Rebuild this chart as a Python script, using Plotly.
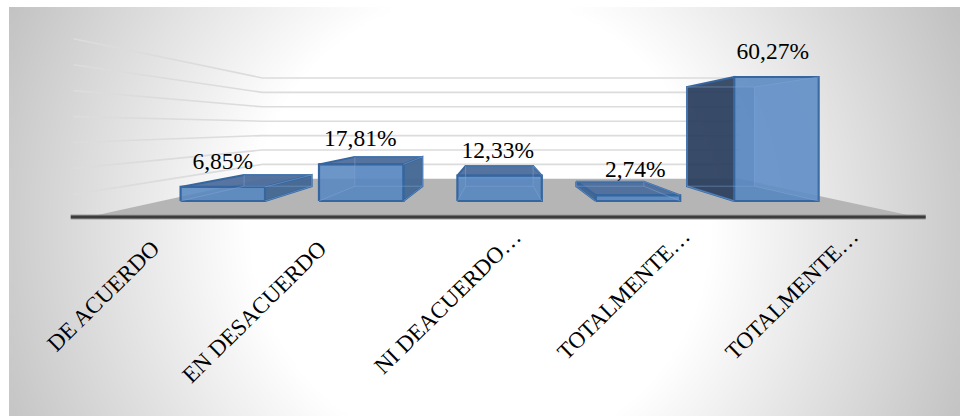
import numpy as np
import plotly.graph_objects as go

categories = ["DE ACUERDO", "EN DESACUERDO", "NI DEACUERDO…", "TOTALMENTE…", "TOTALMENTE…"]
values = [6.85, 17.81, 12.33, 2.74, 60.27]
value_labels = ["6,85%", "17,81%", "12,33%", "2,74%", "60,27%"]
wall_grid_values = [10, 20, 30, 40, 50, 60, 70]

W, H = 960, 416
X0, PITCH = 222.8, 138.4      # pixel of first category, pixels per category
Y0, PXPCT = 201.0, 2.057      # pixel of 0 %, pixels per percent
x_range = [(0 - X0) / PITCH, (W - X0) / PITCH]
y_range = [(Y0 - H) / PXPCT, (Y0 - 0) / PXPCT]

VX, VY = 1.99, 36.0           # vanishing point in axis units
BAR_HALF = 0.305
S_BACK, S_WALL, S_FLOOR, S_SIDE = 0.8, 0.7, 1.216, 1.26
WALL_L, WALL_R = VX - 2.435, VX + 2.49
FONT = "Liberation Serif"


def proj(x, y, s):
    return VX + s * (x - VX), VY + s * (y - VY)


def poly(points, fill, line, width, name=""):
    xs = [p[0] for p in points] + [points[0][0]]
    ys = [p[1] for p in points] + [points[0][1]]
    return go.Scatter(x=xs, y=ys, mode="lines", fill="toself", fillcolor=fill,
                      line=dict(color=line, width=width), hoverinfo="skip", showlegend=False, name=name)


def line(points, color, width):
    return go.Scatter(x=[p[0] for p in points], y=[p[1] for p in points], mode="lines",
                      line=dict(color=color, width=width), hoverinfo="skip", showlegend=False)


fig = go.Figure()

# radial background
px = np.arange(13, W + 5, 8.0)
py = np.arange(11, H + 5, 8.0)
gx, gy = np.meshgrid(px, py)
d = np.hypot(gx - 480, gy - 225)
z = np.clip(255 - (d - 230) * 0.21, 190, 255)
fig.add_trace(go.Heatmap(x=(px - X0) / PITCH, y=(Y0 - py) / PXPCT, z=z, zmin=0, zmax=255,
                         colorscale=[[0, "#000000"], [1, "#ffffff"]], showscale=False,
                         zsmooth="best", hoverinfo="skip"))

# wall grid lines
for g in wall_grid_values:
    fig.add_trace(line([proj(WALL_L, g, S_SIDE), proj(WALL_L, g, S_WALL), proj(WALL_R, g, S_WALL)],
                       "#dcdcdc", 1.6))

# floor
fig.add_trace(poly([proj(WALL_L, 0, S_FLOOR), proj(WALL_R, 0, S_FLOOR),
                    proj(WALL_R, 0, S_WALL), proj(WALL_L, 0, S_WALL)], "#b5b5b5", "#b5b5b5", 0))

# axis line at front of floor
ax_l, ax_r = proj(VX - 2.54, 0, S_FLOOR), proj(VX + 2.54, 0, S_FLOOR)
fig.add_trace(line([ax_l, ax_r], "#9a9a9a", 5))
fig.add_trace(line([ax_l, ax_r], "#3c3c3c", 3))

EDGE = "#35669f"
SEE_THROUGH = "rgba(125,165,215,0.5)"
for i, v in enumerate(values):
    xl, xr = i - BAR_HALF, i + BAR_HALF
    fl0, fr0, fr1, fl1 = (xl, 0), (xr, 0), (xr, v), (xl, v)
    bl0, br0 = proj(xl, 0, S_BACK), proj(xr, 0, S_BACK)
    br1, bl1 = proj(xr, v, S_BACK), proj(xl, v, S_BACK)
    left_out = bl0[0] < xl
    right_out = br0[0] > xr

    # inner faces first
    fig.add_trace(poly([bl0, br0, br1, bl1], "rgba(70,120,185,0.35)", "rgba(0,0,0,0)", 0))
    fig.add_trace(poly([fl0, fr0, br0, bl0], "rgba(70,120,185,0.2)", "rgba(0,0,0,0)", 0))
    # top face
    if v < VY:
        fig.add_trace(poly([fl1, fr1, br1, bl1], "rgba(78,110,155,0.95)", EDGE, 2))
    # visible sides
    if right_out:
        fig.add_trace(poly([fr0, br0, br1, fr1], "rgba(68,104,148,0.95)", EDGE, 2))
    if left_out:
        fill = "rgba(41,60,90,0.9)" if v > VY else "rgba(70,100,140,0.95)"
        fig.add_trace(poly([fl0, bl0, bl1, fl1], fill, EDGE, 2))
    # front face
    fig.add_trace(poly([fl0, fr0, fr1, fl1], "rgba(88,134,192,0.88)", EDGE, 2.2))
    # tall bar: inside of the far side shows through the front
    if v > VY and not right_out:
        fig.add_trace(poly([fr0, br0, br1, fr1], "rgba(125,170,222,0.18)", "rgba(0,0,0,0)", 0))
    # edges of the box that are seen through its faces
    fig.add_trace(line([bl0, bl1, br1, br0, bl0], SEE_THROUGH, 1))
    fig.add_trace(line([fl0, bl0], SEE_THROUGH, 1))
    fig.add_trace(line([fr0, br0], SEE_THROUGH, 1))
    fig.add_trace(line([fr1, br1], SEE_THROUGH, 1))

# data labels: a fixed distance above the front top edge
LABEL_GAP = 24 / PXPCT
fig.add_trace(go.Scatter(x=[i * 0.9935 for i in range(len(values))], y=[v + LABEL_GAP for v in values],
                         mode="text", text=value_labels, textposition="middle center",
                         textfont=dict(family=FONT, size=23.5, color="#000000"),
                         hoverinfo="skip", showlegend=False))

fig.update_layout(
    width=W, height=H, margin=dict(l=0, r=0, t=0, b=0), paper_bgcolor="#ffffff", plot_bgcolor="#ffffff",
    showlegend=False, hovermode=False,
    xaxis=dict(range=x_range, visible=False, showgrid=False, zeroline=False),
    yaxis=dict(range=y_range, visible=False, showgrid=False, zeroline=False),
)
# category labels: follow the front edge of the floor; truncated ones reach further up and right
for i, c in enumerate(categories):
    cut = c.endswith("…")
    fig.add_annotation(x=proj(i, 0, S_FLOOR)[0] + (29 if cut else 3) / PITCH,
                       y=(-9.8 if cut else -15.6), xref="x", yref="y", text=c, textangle=-44.5,
                       showarrow=False, xanchor="right", yanchor="top",
                       font=dict(family=FONT, size=23, color="#000000"))
fig.write_html("out.html", post_script="document.body.style.margin='0';",
               config={"displayModeBar": False})
